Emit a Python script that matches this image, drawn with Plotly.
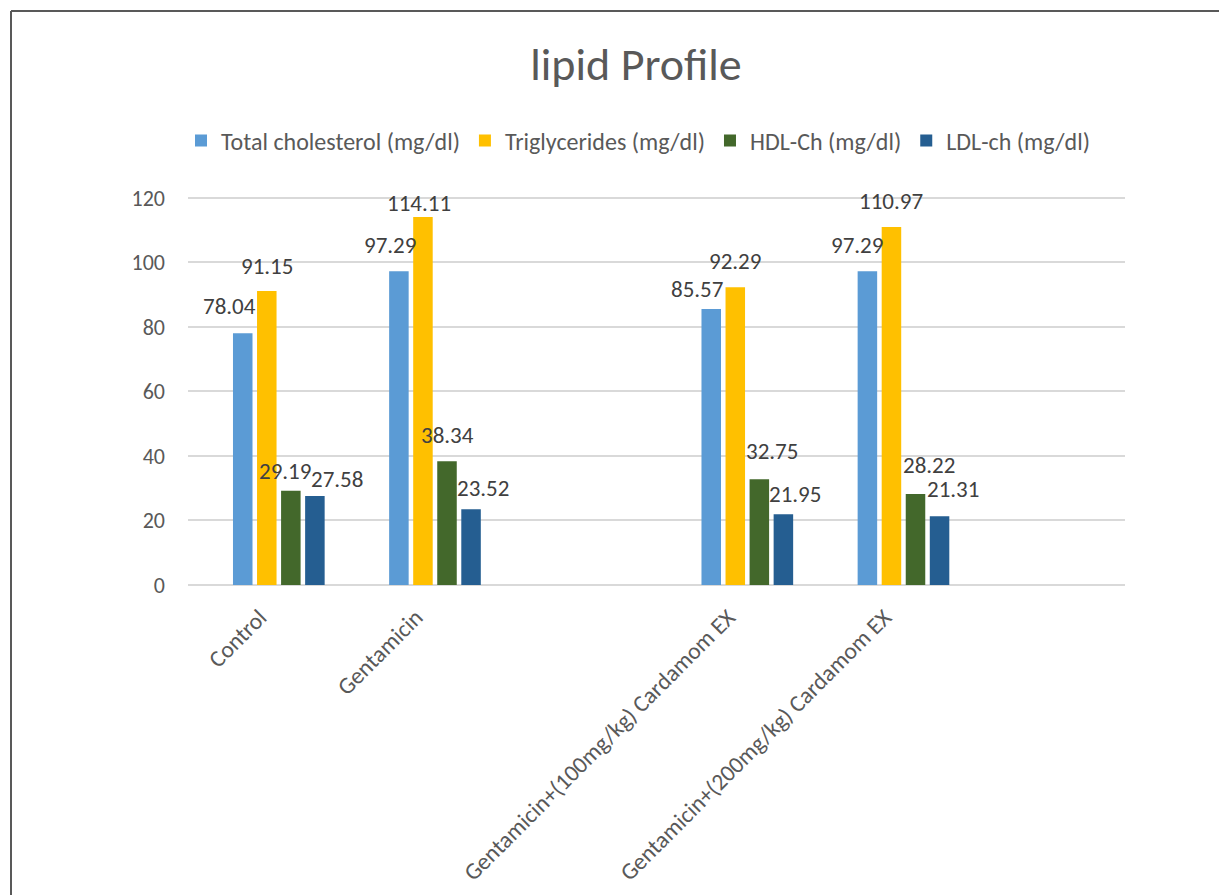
import plotly.graph_objects as go

# ---------------- data ----------------
categories = ["Control", "Gentamicin", "",
              "Gentamicin+(100mg/kg) Cardamom EX",
              "Gentamicin+(200mg/kg) Cardamom EX", ""]
series_names = ["Total cholesterol (mg/dl)", "Triglycerides (mg/dl)",
                "HDL-Ch (mg/dl)", "LDL-ch (mg/dl)"]
total_cholesterol = [78.04, 97.29, None, 85.57, 97.29, None]
triglycerides = [91.15, 114.11, None, 92.29, 110.97, None]
hdl_ch = [29.19, 38.34, None, 32.75, 28.22, None]
ldl_ch = [27.58, 23.52, None, 21.95, 21.31, None]
y_ticks = [0, 20, 40, 60, 80, 100, 120]

# ---------------- style ----------------
colors = ["#5B9BD5", "#FFC000", "#43682B", "#255E91"]
bar_width = 0.125
bar_offsets = [-0.212, -0.058, 0.096, 0.250]
tick_label_nudge = -0.04
# label shifts in px: (dx from bar centre, dy of label centre above bar top)
label_dx = [[-13, -9, None, -14, -10, None],
            [0, -4, None, 0, 0, None],
            [-6, 0, None, 13, 13, None],
            [22, 12, None, 12, 13, None]]
label_dy = [[27, 26, None, 20, 26, None],
            [25, 14, None, 26, 26, None],
            [20, 26, None, 28, 29, None],
            [17, 21, None, 20, 27, None]]
FONT = "Calibri, Carlito, Lato, sans-serif"
TXT = "#595959"

values = [total_cholesterol, triglycerides, hdl_ch, ldl_ch]
xpos = list(range(len(categories)))

fig = go.Figure()
annotations = []
for k, (name, vals) in enumerate(zip(series_names, values)):
    fig.add_trace(go.Bar(
        x=xpos, y=vals, name=name,
        width=bar_width, offset=bar_offsets[k],
        marker=dict(color=colors[k], line=dict(width=0)),
    ))
    for i, v in enumerate(vals):
        if v is None:
            continue
        annotations.append(dict(
            x=i + bar_offsets[k] + bar_width / 2, y=v, xref="x", yref="y",
            text=f"{v:.2f}", showarrow=False,
            xanchor="center", yanchor="middle",
            xshift=label_dx[k][i], yshift=label_dy[k][i],
            font=dict(family=FONT, size=23, color="#404040"),
        ))

# body margin removed via post_script -> figure coords = page coords
W, H = 1219, 895
L, R, B = 188, 1125, 585
Y_TOP = 120.6
T = B - round((B - 198) * Y_TOP / 120)
ph = B - T
pw = R - L

fx0 = (11 - L) / pw          # frame left edge (paper units)
fy1 = (B - 11) / ph          # frame top edge (paper units)
frame_line = dict(color="#595959", width=2)

fig.update_layout(
    width=W, height=H,
    barmode="overlay",
    paper_bgcolor="white", plot_bgcolor="white",
    margin=dict(l=L, r=W - R, t=T, b=H - B, autoexpand=False),
    font=dict(family=FONT, color=TXT, size=22),
    title=dict(text="lipid Profile", x=636 / W, xanchor="center",
               y=1 - 64 / H, yanchor="middle",
               font=dict(family=FONT, size=46, color=TXT)),
    legend=dict(orientation="h", x=(638 - L) / pw, xanchor="center",
                y=1 + (T - 141) / ph, yanchor="middle",
                font=dict(family=FONT, size=24, color=TXT),
                itemclick=False, bgcolor="rgba(0,0,0,0)"),
    xaxis=dict(range=[-0.5, len(categories) - 0.5],
               tickmode="array", tickvals=[p + tick_label_nudge for p in xpos],
               ticktext=categories,
               tickangle=-45, showgrid=False, zeroline=False,
               showline=False, ticks="", ticklabelstandoff=13,
               tickfont=dict(family=FONT, size=23.5, color=TXT)),
    yaxis=dict(range=[0, Y_TOP], tickmode="array", tickvals=y_ticks,
               showgrid=True, gridcolor="#D9D9D9", gridwidth=1.5,
               zeroline=True, zerolinecolor="#D9D9D9", zerolinewidth=1.5,
               showline=False, ticks="", ticklabelstandoff=22,
               tickfont=dict(family=FONT, size=22, color=TXT)),
    annotations=annotations,
    shapes=[
        dict(type="line", xref="paper", yref="paper",
             x0=fx0, x1=1.2, y0=fy1, y1=fy1, line=frame_line, layer="below"),
        dict(type="line", xref="paper", yref="paper",
             x0=fx0, x1=fx0, y0=-1.0, y1=fy1, line=frame_line, layer="below"),
    ],
)

fig.write_html(
    "out.html",
    config={"displayModeBar": False},
    post_script="document.body.style.margin='0';"
                "document.documentElement.style.overflow='hidden';"
                "document.body.style.overflow='hidden';",
)
